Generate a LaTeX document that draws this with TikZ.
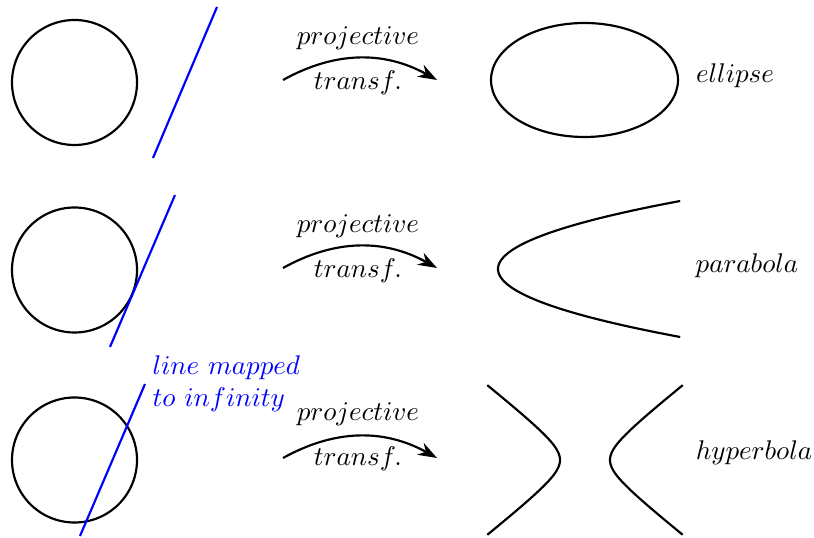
\documentclass[tikz,border=0pt]{standalone}
\usetikzlibrary{arrows.meta}
\begin{document}
\begin{tikzpicture}[x=0.37pt,y=-0.37pt,
  curve/.style={thick,black},
  blueline/.style={thick,blue},
  maparrow/.style={thick,-{Stealth[length=7pt,width=5pt]},bend left=29},
  lbl/.style={inner sep=0pt}]
\useasboundingbox (0,0) rectangle (814,538);
% row 1
\draw[curve] (74.5,82.5) circle[radius=62.5];
\coordinate (l1a) at (153,158); \coordinate (l1b) at (217,7);
\draw[blueline] (l1a) -- (l1b);
\coordinate (a1s) at (283,80); \coordinate (a1e) at (437,80);
\draw[maparrow] (a1s) to (a1e);
\node[lbl] (p1) at (358,38) {$projective$};
\node[lbl] (t1) at (358,83) {$transf.$};
\draw[curve] (584.5,80) ellipse[x radius=93.5,y radius=57];
\node[lbl] (e1) at (735,76) {$ellipse$};
% row 2
\draw[curve] (74.5,270) circle[radius=62.5];
\coordinate (l2a) at (110,347); \coordinate (l2b) at (175,195);
\draw[blueline] (l2a) -- (l2b);
\coordinate (a2s) at (283,268); \coordinate (a2e) at (437,268);
\draw[maparrow] (a2s) to (a2e);
\node[lbl] (p2) at (358,226) {$projective$};
\node[lbl] (t2) at (358,271) {$transf.$};
\draw[curve,domain=-68:68,samples=60,variable=\t] plot ({498+0.0394*\t*\t},{269+\t});
\node[lbl] (e2) at (747,266) {$parabola$};
% row 3
\draw[curve] (74.5,460) circle[radius=62.5];
\coordinate (l3a) at (80,536); \coordinate (l3b) at (145,384);
\draw[blueline] (l3a) -- (l3b);
\node[lbl,blue,align=left,anchor=north west] (inf) at (152,355) {$line\ mapped$\\$to\ infinity$};
\coordinate (a3s) at (283,458); \coordinate (a3e) at (437,458);
\draw[maparrow] (a3s) to (a3e);
\node[lbl] (p3) at (358,414) {$projective$};
\node[lbl] (t3) at (358,459) {$transf.$};
\draw[curve,domain=-2.04:2.04,samples=60,variable=\t] plot ({585-25*cosh(\t)},{460+19.8*sinh(\t)});
\draw[curve,domain=-2.04:2.04,samples=60,variable=\t] plot ({585+25*cosh(\t)},{460+19.8*sinh(\t)});
\node[lbl] (e3) at (754,453) {$hyperbola$};
\end{tikzpicture}
\end{document}
